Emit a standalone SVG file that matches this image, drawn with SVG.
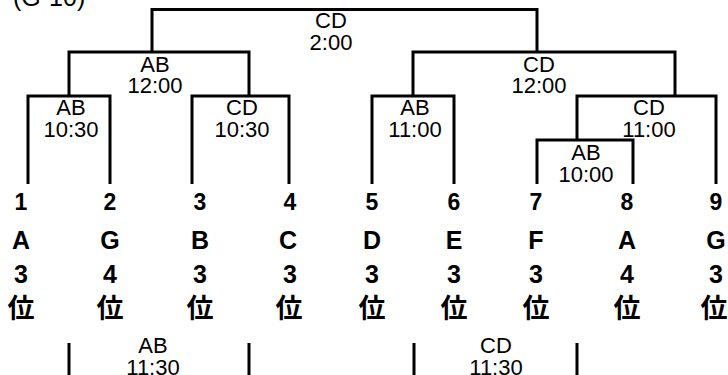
<svg xmlns="http://www.w3.org/2000/svg" width="728" height="375" viewBox="0 0 728 375">
<style>
.ln{fill:none;stroke:#000;stroke-width:3;stroke-linejoin:miter}
.lb{font-family:"Liberation Sans",Arial,sans-serif;font-size:22px;fill:#000;text-anchor:middle}
.nm{font-family:"Liberation Sans",Arial,sans-serif;font-size:23px;font-weight:bold;fill:#000;text-anchor:middle}
.tm{font-family:"Liberation Sans",Arial,sans-serif;font-size:25px;font-weight:bold;fill:#000;text-anchor:middle}
.rk{font-family:"Liberation Sans",Arial,sans-serif;font-size:25px;font-weight:bold;fill:#000;text-anchor:middle}
.kj{font-family:"Noto Sans CJK JP","Noto Sans CJK SC",sans-serif;font-size:27px;font-weight:bold;fill:#000;text-anchor:middle}
</style>
<rect width="728" height="375" fill="#fff"/>
<text x="13" y="6" style="font-family:'Liberation Sans',Arial,sans-serif;font-size:25px;fill:#000">(G-10)</text>
<g id="connectors">
<path class="ln" d="M152,52V9.5H537V52"/>
<path class="ln" d="M69,96V52H249V96"/>
<path class="ln" d="M28,184V96H110V184"/>
<path class="ln" d="M192,184V96H289V184"/>
<path class="ln" d="M413,96V52H675V96"/>
<path class="ln" d="M372,184V96H454V184"/>
<path class="ln" d="M577,140V96H716V184"/>
<path class="ln" d="M537,184V140H633V184"/>
<path class="ln" d="M69,343V375M249,343V375M414,343V375M577,343V375"/>
</g>
<g id="m-final"><text class="lb" x="331" y="28">CD</text><text class="lb" x="331" y="50">2:00</text></g>
<g id="m-l12"><text class="lb" x="155" y="72">AB</text><text class="lb" x="155" y="93">12:00</text></g>
<g id="m-l1030a"><text class="lb" x="71" y="115">AB</text><text class="lb" x="71" y="137">10:30</text></g>
<g id="m-l1030b"><text class="lb" x="242" y="115">CD</text><text class="lb" x="242" y="137">10:30</text></g>
<g id="m-r12"><text class="lb" x="539" y="72">CD</text><text class="lb" x="539" y="93">12:00</text></g>
<g id="m-r1100a"><text class="lb" x="415" y="115">AB</text><text class="lb" x="415" y="137">11:00</text></g>
<g id="m-r1100b"><text class="lb" x="649" y="115">CD</text><text class="lb" x="649" y="137">11:00</text></g>
<g id="m-r1000"><text class="lb" x="586" y="160">AB</text><text class="lb" x="586" y="182">10:00</text></g>
<g id="m-b1130a"><text class="lb" x="153" y="353">AB</text><text class="lb" x="153" y="375">11:30</text></g>
<g id="m-b1130b"><text class="lb" x="496" y="353">CD</text><text class="lb" x="496" y="375">11:30</text></g>
<g id="t1"><text class="nm" x="21" y="210">1</text><text class="tm" x="21" y="249">A</text><text class="rk" x="21" y="283">3</text><text class="kj" x="21" y="318">位</text></g>
<g id="t2"><text class="nm" x="110" y="210">2</text><text class="tm" x="110" y="249">G</text><text class="rk" x="110" y="283">4</text><text class="kj" x="110" y="318">位</text></g>
<g id="t3"><text class="nm" x="200" y="210">3</text><text class="tm" x="200" y="249">B</text><text class="rk" x="200" y="283">3</text><text class="kj" x="200" y="318">位</text></g>
<g id="t4"><text class="nm" x="290" y="210">4</text><text class="tm" x="288" y="249">C</text><text class="rk" x="290" y="283">3</text><text class="kj" x="289" y="318">位</text></g>
<g id="t5"><text class="nm" x="372" y="210">5</text><text class="tm" x="372" y="249">D</text><text class="rk" x="372" y="283">3</text><text class="kj" x="372" y="318">位</text></g>
<g id="t6"><text class="nm" x="454" y="210">6</text><text class="tm" x="454" y="249">E</text><text class="rk" x="454" y="283">3</text><text class="kj" x="454" y="318">位</text></g>
<g id="t7"><text class="nm" x="536" y="210">7</text><text class="tm" x="536" y="249">F</text><text class="rk" x="536" y="283">3</text><text class="kj" x="536" y="318">位</text></g>
<g id="t8"><text class="nm" x="627" y="210">8</text><text class="tm" x="627" y="249">A</text><text class="rk" x="627" y="283">4</text><text class="kj" x="627" y="318">位</text></g>
<g id="t9"><text class="nm" x="716" y="210">9</text><text class="tm" x="716" y="249">G</text><text class="rk" x="716" y="283">3</text><text class="kj" x="714" y="318">位</text></g>
</svg>
